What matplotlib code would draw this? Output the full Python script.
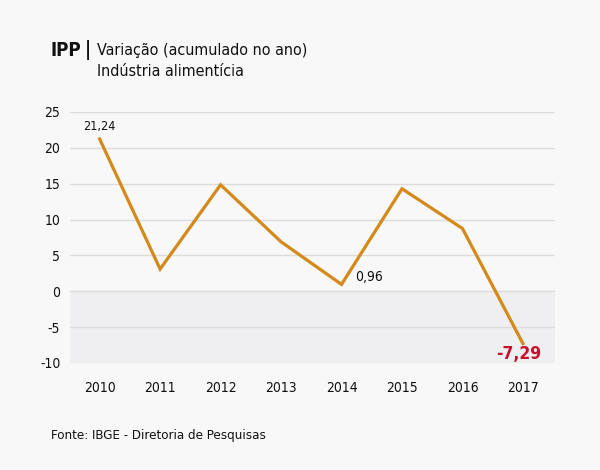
import matplotlib
matplotlib.use('Agg')
import matplotlib.pyplot as plt
from matplotlib import font_manager

names = {f.name for f in font_manager.fontManager.ttflist}
if 'Liberation Sans Narrow' in names:
    plt.rcParams['font.family'] = ['Liberation Sans Narrow', 'DejaVu Sans']
else:
    plt.rcParams['font.family'] = ['DejaVu Sans']
    plt.rcParams['font.stretch'] = 'condensed'
plt.rcParams['axes.unicode_minus'] = False

years = [2010, 2011, 2012, 2013, 2014, 2015, 2016, 2017]
ipp = [21.24, 3.1, 14.85, 6.9, 0.96, 14.3, 8.75, -7.29]
yticks = [25, 20, 15, 10, 5, 0, -5, -10]

bg = '#f8f8f8'
line_color = '#d4891a'

fig = plt.figure(figsize=(6, 4.7), dpi=100, facecolor=bg)
ax = fig.add_axes([70/600, 1-363/470, 485/600, 251/470], facecolor=bg)

ax.axhspan(-10, 0, color='#efeff1', zorder=0)
for v in yticks:
    ax.axhline(v, color='#dcdcdc', lw=1, zorder=1)

ax.plot(years, ipp, color=line_color, lw=2.3, solid_joinstyle='miter', zorder=3)

ax.set_xlim(2009.51, 2017.53)
ax.set_ylim(-10, 25)
ax.set_xticks(years)
ax.set_xticklabels([str(y) for y in years])
ax.set_yticks(yticks)
ax.tick_params(length=0, labelsize=10, colors='#111111')
ax.tick_params(axis='x', pad=13)
ax.tick_params(axis='y', pad=7)
for s in ax.spines.values():
    s.set_visible(False)

ax.annotate('21,24', (years[0], ipp[0]), xytext=(0, 4), textcoords='offset points',
            ha='center', va='bottom', fontsize=9, color='#111111')
ax.annotate('0,96', (years[4], ipp[4]), xytext=(10, 5), textcoords='offset points',
            ha='left', va='center', fontsize=10, color='#111111')
ax.annotate('-7,29', (years[7], ipp[7]), xytext=(-3, -1), textcoords='offset points',
            ha='center', va='top', fontsize=12.5, fontweight='bold', color='#c8102e')

fig.text(50/600, 1-50/470, 'IPP', fontsize=13.5, fontweight='bold', va='center', ha='left', color='#111111')
fig.text(85/600, 1-50/470, '|', fontsize=13.5, fontweight='bold', va='center', ha='left', color='#111111')
fig.text(97/600, 1-50/470, 'Variação (acumulado no ano)', fontsize=11.5, va='center', ha='left', color='#111111')
fig.text(97/600, 1-72/470, 'Indústria alimentícia', fontsize=11.5, va='center', ha='left', color='#111111')
fig.text(51/600, 1-436/470, 'Fonte: IBGE - Diretoria de Pesquisas', fontsize=9.5, va='center', ha='left', color='#111111')

fig.savefig('out.png', dpi=100, facecolor=bg)
